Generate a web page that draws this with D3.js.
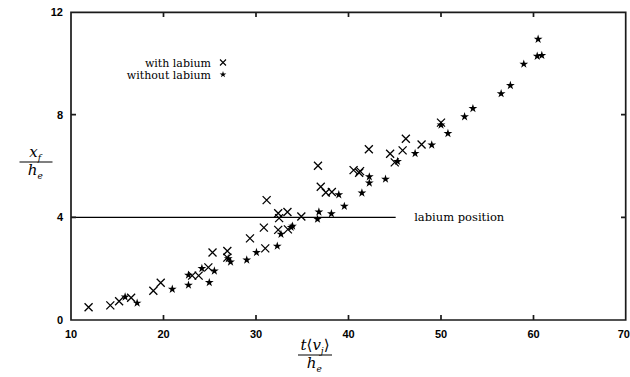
<!DOCTYPE html>
<html>
<head>
<meta charset="utf-8">
<script src="https://cdn.jsdelivr.net/npm/d3@7"></script>
<style>
  body { margin: 0; background: #fff; }
  svg { display: block; }
  .serif { font-family: "DejaVu Serif", "Liberation Serif", serif; }
  .num { font-family: "Liberation Sans", Arial, sans-serif; font-weight: bold; font-size: 11px; }
</style>
</head>
<body>
<script>
// x = t<v_j>/h_e , y = x_f/h_e
var withX = [11.9, 14.25, 15.2, 16.5, 18.9, 19.7, 23.1, 23.8, 24.85, 25.3, 26.9, 26.9, 29.35, 31.0, 30.85, 31.15,
  32.4, 32.5, 33.4, 32.4, 33.45, 34.9, 36.7, 37.0, 37.55, 38.2, 40.55, 41.25, 41.15, 42.2, 44.5, 45.0, 45.85,
  46.2, 47.9, 50.0];
var withY = [0.5, 0.57, 0.73, 0.87, 1.14, 1.45, 1.73, 1.73, 2.05, 2.63, 2.69, 2.43, 3.18, 2.79, 3.6, 4.67,
  4.16, 3.97, 4.21, 3.51, 3.53, 4.03, 6.01, 5.19, 4.97, 4.99, 5.84, 5.8, 5.74, 6.65, 6.48, 6.14, 6.61,
  7.06, 6.84, 7.69];
var withoutX = [15.85, 17.15, 20.95, 22.7, 22.7, 24.15, 24.95, 25.5, 27.0, 27.25, 29.0, 30.05, 32.3, 32.7, 33.8,
  33.95, 36.65, 36.8, 38.15, 38.95, 39.55, 41.45, 42.25, 42.25, 44.0, 45.3, 47.2, 49.0, 50.0, 50.75, 52.55,
  53.45, 56.5, 57.5, 58.95, 60.4, 60.9, 60.5];
var withoutY = [0.9, 0.66, 1.2, 1.36, 1.75, 2.01, 1.46, 1.91, 2.39, 2.26, 2.34, 2.63, 2.88, 3.34, 3.61,
  3.66, 3.93, 4.21, 4.14, 4.88, 4.43, 4.95, 5.58, 5.34, 5.49, 6.18, 6.49, 6.82, 7.6, 7.27, 7.92,
  8.24, 8.82, 9.14, 9.97, 10.28, 10.31, 10.94];
var xTicks = [10, 20, 30, 40, 50, 60, 70];
var yTicks = [0, 4, 8, 12];
var labiumPos = 4;
var labiumEnd = 45.1;

var w = 630, h = 377;
var x = d3.scaleLinear().domain([10, 70]).range([71, 626]);
var y = d3.scaleLinear().domain([0, 12]).range([320, 12]);

var svg = d3.select("body").append("svg")
    .attr("width", w)
    .attr("height", h);

var xl = x(10), xr = x(70), yb = y(0), yt = y(12);

// tick labels
svg.selectAll(".xlab")
    .data(xTicks)
    .enter().append("text")
    .attr("class", "num")
    .attr("x", function(d) { return x(d); })
    .attr("y", yb + 18)
    .attr("text-anchor", function(d) { return d == 70 ? "end" : "middle"; })
    .attr("dx", function(d) { return d == 70 ? 4 : 0; })
    .text(function(d) { return d; });
svg.selectAll(".ylab")
    .data(yTicks)
    .enter().append("text")
    .attr("class", "num")
    .attr("x", xl - 8)
    .attr("y", function(d) { return y(d) + 4; })
    .attr("text-anchor", "end")
    .text(function(d) { return d; });

// labium position line
svg.append("line")
    .attr("x1", x(10)).attr("x2", x(labiumEnd))
    .attr("y1", y(labiumPos)).attr("y2", y(labiumPos))
    .attr("stroke", "#000")
    .attr("stroke-width", 1.3);
svg.append("text")
    .attr("class", "serif")
    .attr("x", x(47.1))
    .attr("y", y(labiumPos) + 4)
    .style("font-size", "11.5px")
    .text("labium position");

var crossPath = "M-4,-4L4,4M-4,4L4,-4";
var star = d3.symbol().type(d3.symbolStar).size(24);

var withData = withX.map(function(d, i) { return {x: d, y: withY[i]}; });
var withoutData = withoutX.map(function(d, i) { return {x: d, y: withoutY[i]}; });

svg.selectAll(".with")
    .data(withData)
    .enter().append("path")
    .attr("class", "with")
    .attr("d", crossPath)
    .attr("transform", function(d) { return "translate(" + x(d.x) + "," + y(d.y) + ")"; })
    .attr("stroke", "#000")
    .attr("stroke-width", 1.3)
    .attr("fill", "none");

svg.selectAll(".without")
    .data(withoutData)
    .enter().append("path")
    .attr("class", "without")
    .attr("d", star)
    .attr("transform", function(d) { return "translate(" + x(d.x) + "," + y(d.y) + ")"; })
    .attr("fill", "#000");

// legend
var legend = svg.append("g");
legend.append("text")
    .attr("class", "serif")
    .attr("x", 211).attr("y", 66.5)
    .attr("text-anchor", "end")
    .style("font-size", "11px")
    .text("with labium");
legend.append("text")
    .attr("class", "serif")
    .attr("x", 211).attr("y", 78.5)
    .attr("text-anchor", "end")
    .style("font-size", "11px")
    .text("without labium");
legend.append("path")
    .attr("d", "M-3,-3L3,3M-3,3L3,-3")
    .attr("transform", "translate(223,62.5)")
    .attr("stroke", "#000")
    .attr("stroke-width", 1.1);
legend.append("path")
    .attr("d", d3.symbol().type(d3.symbolStar).size(14))
    .attr("transform", "translate(223,74.5)")
    .attr("fill", "#000");

// axis labels as fractions
function fraction(cx, cy, lineW, top, bottom) {
    var g = svg.append("g").attr("class", "serif").style("font-style", "italic");
    var t = g.append("text").attr("x", cx).attr("y", cy - 5).attr("text-anchor", "middle").style("font-size", "15px");
    top(t);
    g.append("line")
        .attr("x1", cx - lineW / 2).attr("x2", cx + lineW / 2)
        .attr("y1", cy).attr("y2", cy)
        .attr("stroke", "#000").attr("stroke-width", 1.2);
    var b = g.append("text").attr("x", cx).attr("y", cy + 13).attr("text-anchor", "middle").style("font-size", "15px");
    bottom(b);
}
function sub(t, main, s) {
    t.append("tspan").text(main);
    t.append("tspan").attr("dy", 4).style("font-size", "9px").text(s);
    t.append("tspan").attr("dy", -4).text("\u200A");
}

fraction(36, 162, 33, function(t) { sub(t, "x", "f"); }, function(t) { sub(t, "h", "e"); });
fraction(315, 355, 34, function(t) {
    t.append("tspan").text("t");
    t.append("tspan").style("font-style", "normal").text("\u27E8");
    t.append("tspan").text("v");
    t.append("tspan").attr("dy", 4).style("font-size", "9px").text("j");
    t.append("tspan").attr("dy", -4).style("font-style", "normal").text("\u27E9");
}, function(t) { sub(t, "h", "e"); });

// frame as one outline path plus inward ticks, appended last
var frameD = d3.path();
frameD.moveTo(xl, yt + 0.3);
frameD.lineTo(xr - 0.3, yt + 0.3);
frameD.lineTo(xr - 0.3, yb);
frameD.lineTo(xl, yb);
frameD.closePath();
xTicks.slice(1, -1).forEach(function(d) {
    frameD.moveTo(x(d), yb); frameD.lineTo(x(d), yb - 5);
    frameD.moveTo(x(d), yt); frameD.lineTo(x(d), yt + 5);
});
yTicks.slice(1, -1).forEach(function(d) {
    frameD.moveTo(xl, y(d)); frameD.lineTo(xl + 5, y(d));
    frameD.moveTo(xr, y(d)); frameD.lineTo(xr - 5, y(d));
});
svg.append("path")
    .attr("d", frameD.toString())
    .attr("fill", "none")
    .attr("stroke", "#1a1a1a")
    .attr("stroke-width", 1.7);
</script>
</body>
</html>
